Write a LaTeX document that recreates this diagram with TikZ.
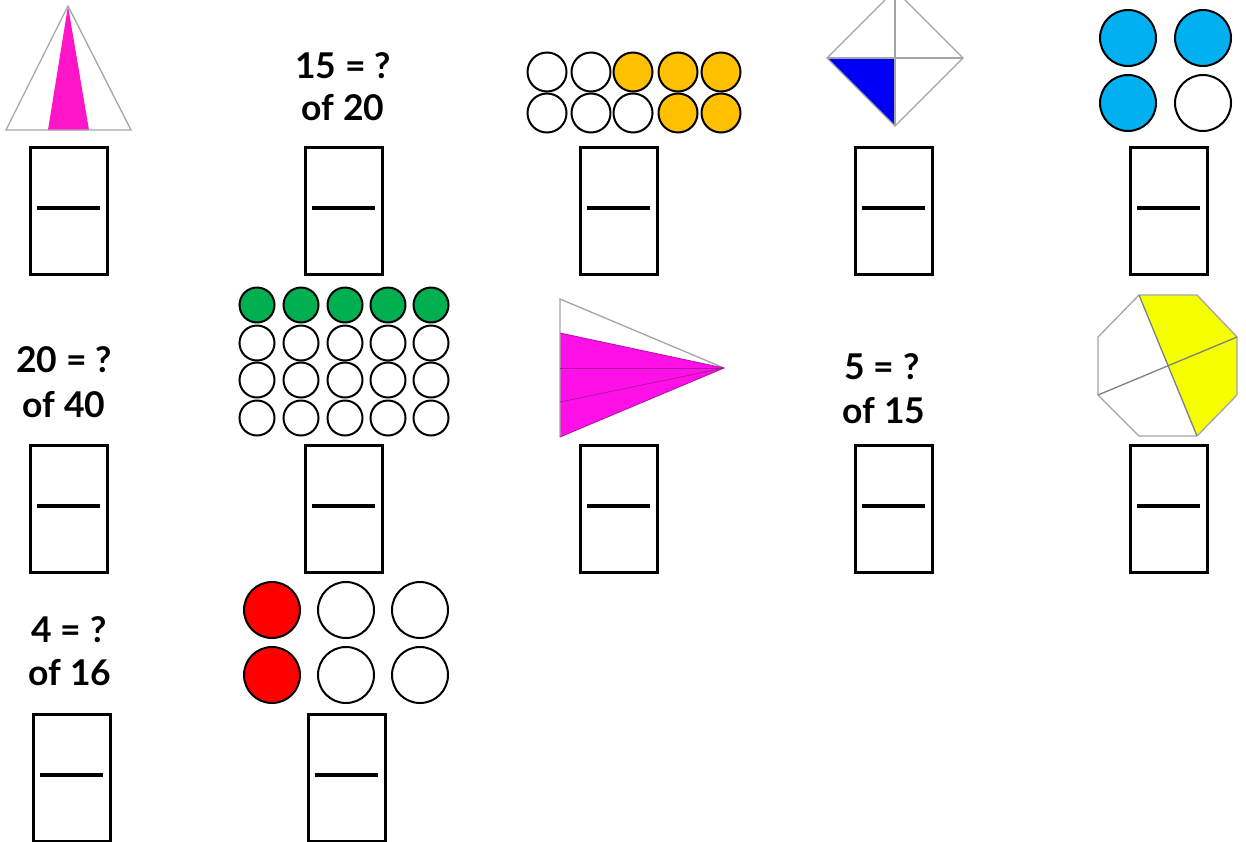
\documentclass[tikz,border=0pt]{standalone}
\usepackage{fontspec}
\setmainfont{Lato}
\definecolor{pinkA}{RGB}{255,20,200}
\definecolor{pinkB}{RGB}{255,16,232}
\definecolor{goldc}{RGB}{255,192,0}
\definecolor{bluec}{RGB}{0,0,245}
\definecolor{cyanc}{RGB}{0,176,240}
\definecolor{greenc}{RGB}{0,176,80}
\definecolor{yellowc}{RGB}{245,255,0}
\definecolor{redc}{RGB}{255,0,0}
\definecolor{grayl}{RGB}{165,165,165}
\definecolor{purpl}{RGB}{170,20,160}
\tikzset{
  ansbox/.style={draw=black,line width=2.5pt},
  barline/.style={draw=black,line width=4pt},
  dot/.style={draw=black,line width=2pt},
  thin/.style={draw=grayl,line width=1.3pt},
  qtext/.style={font=\fontsize{35.5}{40}\selectfont\bfseries,inner sep=0pt,anchor=center}
}
\newcommand{\answerbox}[3]{%
  \node[ansbox,minimum width=77pt,minimum height=127pt,inner sep=0pt,anchor=north west] (#3) at (#1,#2) {};
  \draw[barline] ([xshift=8pt,yshift=-62pt]#3.north west) -- ([xshift=-9pt,yshift=-62pt]#3.north east);
}
\begin{document}
\begin{tikzpicture}[x=1pt,y=-1pt]
\useasboundingbox (0,0) rectangle (1246,841);
\clip (0,0) rectangle (1246,841);
\fill[white] (0,0) rectangle (1246,841);

% ---------- row 1 ----------
% triangle
\fill[pinkA] (48,130) -- (68,6) -- (89,130) -- cycle;
\draw[thin] (6,130) -- (68,6) -- (131,130) -- cycle;
\answerbox{29}{146}{b11}

% 15 = ? of 20
\node[qtext] (t12a) at (343,66) {15 = ?};
\node[qtext] (t12b) at (343,108) {of 20};
\answerbox{304}{146}{b12}

% ten circles
\foreach \x/\c in {547/white,591/white,633/goldc,678/goldc,721/goldc}
  \filldraw[dot,fill=\c] (\x,72) circle (19.5);
\foreach \x/\c in {547/white,591/white,633/white,678/goldc,721/goldc}
  \filldraw[dot,fill=\c] (\x,113) circle (19.5);
\answerbox{579}{146}{b13}

% diamond
\fill[bluec] (827,58) -- (895,58) -- (895,126) -- cycle;
\draw[thin] (895,-10) -- (963,58) -- (895,126) -- (827,58) -- cycle;
\draw[thin] (827,58) -- (963,58);
\draw[thin] (895,-10) -- (895,126);
\answerbox{854}{146}{b14}

% four circles
\filldraw[dot,fill=cyanc] (1128,38) circle (28);
\filldraw[dot,fill=cyanc] (1203,38) circle (28);
\filldraw[dot,fill=cyanc] (1128,103) circle (28);
\filldraw[dot,fill=white] (1203,103) circle (28);
\answerbox{1129}{146}{b15}

% ---------- row 2 ----------
\node[qtext] (t21a) at (64,360) {20 = ?};
\node[qtext] (t21b) at (64,405) {of 40};
\answerbox{29}{444}{b21}

% twenty circles
\foreach \x in {257,301,345,388,431}
  \filldraw[dot,fill=greenc] (\x,305) circle (17.5);
\foreach \y in {343,380,418}
  \foreach \x in {257,301,345,388,431}
    \filldraw[dot,fill=white] (\x,\y) circle (17.5);
\answerbox{304}{444}{b22}

% kite triangle
\fill[pinkB] (560,333) -- (724,368) -- (560,437) -- cycle;
\draw[thin] (560,437) -- (560,299) -- (724,368);
\draw[draw=purpl,line width=0.8pt] (560,368) -- (724,368);
\draw[draw=purpl,line width=0.8pt] (560,402) -- (724,368);
\draw[draw=purpl,line width=0.8pt] (560,333) -- (724,368) -- (560,437);
\answerbox{579}{444}{b23}

% 5 = ? of 15
\node[qtext] (t24a) at (882,367) {5 = ?};
\node[qtext] (t24b) at (884,411) {of 15};
\answerbox{854}{444}{b24}

% octagon
\fill[yellowc] (1139,295) -- (1197,295) -- (1237,337) -- (1237,395) -- (1197,436) -- cycle;
\draw[thin] (1139,295) -- (1197,295) -- (1237,337) -- (1237,395) -- (1197,436) -- (1139,436) -- (1098,395) -- (1098,337) -- cycle;
\draw[thin,draw=gray] (1139,295) -- (1197,436);
\draw[thin,draw=gray] (1098,395) -- (1237,337);
\answerbox{1129}{444}{b25}

% ---------- row 3 ----------
\node[qtext] (t31a) at (69,630) {4 = ?};
\node[qtext] (t31b) at (70,673) {of 16};
\answerbox{32}{713}{b31}

% six circles
\foreach \y in {610,675} {
  \filldraw[dot,fill=redc] (272,\y) circle (28);
  \filldraw[dot,fill=white] (346,\y) circle (28);
  \filldraw[dot,fill=white] (420,\y) circle (28);
}
\answerbox{307}{713}{b32}
\end{tikzpicture}
\end{document}
